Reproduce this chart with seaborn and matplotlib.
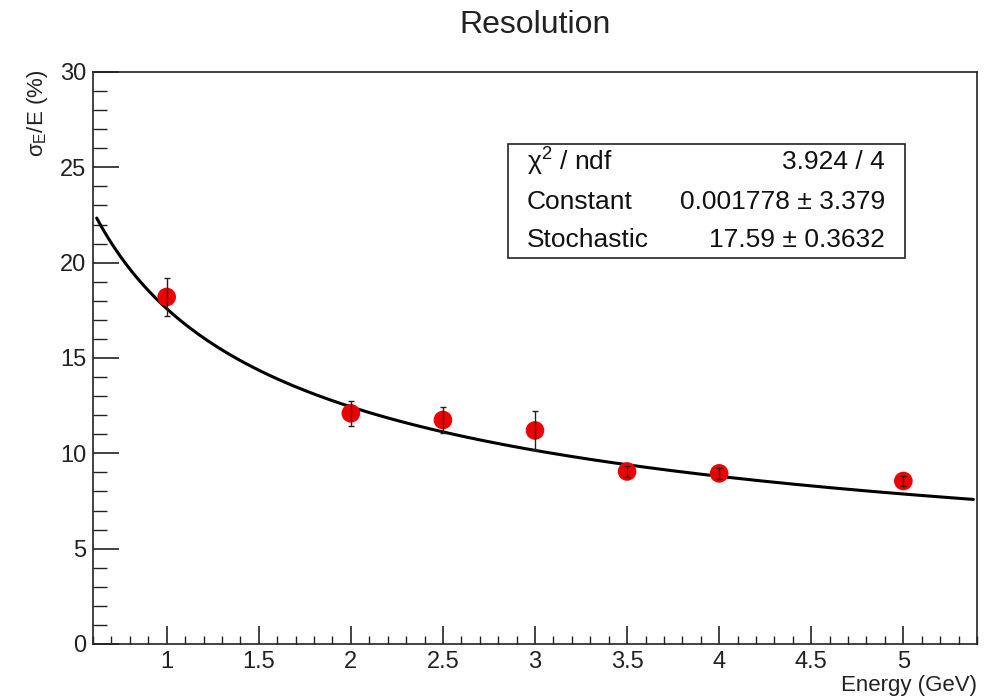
import numpy as np
import pandas as pd
import matplotlib
matplotlib.use("Agg")
import matplotlib.pyplot as plt
from matplotlib.ticker import MultipleLocator
import seaborn as sns

# Data
energy = [1.0, 2.0, 2.5, 3.0, 3.5, 4.0, 5.0]
resolution = [18.2, 12.1, 11.75, 11.2, 9.05, 8.95, 8.55]
res_err = [1.0, 0.65, 0.7, 1.0, 0.3, 0.3, 0.25]

# Fit parameters (from the stats box)
fit_constant = 0.001778
fit_stochastic = 17.59
stats_labels = ["χ$^{2}$ / ndf", "Constant", "Stochastic"]
stats_values = ["3.924 / 4", "0.001778 ± 3.379", "17.59 ± 0.3632"]
x_ticks = [1, 1.5, 2, 2.5, 3, 3.5, 4, 4.5, 5]
x_ticklabels = ["1", "1.5", "2", "2.5", "3", "3.5", "4", "4.5", "5"]
y_ticks = [0, 5, 10, 15, 20, 25, 30]
y_ticklabels = ["0", "5", "10", "15", "20", "25", "30"]

sns.set_theme(style="white")
plt.rcParams['font.family'] = ['Liberation Sans', 'DejaVu Sans']
plt.rcParams['mathtext.fontset'] = 'custom'
plt.rcParams['mathtext.rm'] = 'Liberation Sans'
plt.rcParams['mathtext.it'] = 'Liberation Sans'
plt.rcParams['mathtext.default'] = 'regular'

fig = plt.figure(figsize=(9.94, 6.96), dpi=100)
ax = fig.add_axes([93/994, 1-644/696, (977-93)/994, (644-72)/696])

df = pd.DataFrame({"E": energy, "res": resolution})
e_curve = np.linspace(0.62, 5.38, 300)
curve = np.sqrt((fit_stochastic / np.sqrt(e_curve))**2 + fit_constant**2)
cdf = pd.DataFrame({"E": e_curve, "res": curve})

sns.lineplot(data=cdf, x="E", y="res", color="black", linewidth=2.2, ax=ax, zorder=2)
sns.scatterplot(data=df, x="E", y="res", color="#ee0000", s=180, edgecolor="none", ax=ax, zorder=3)
ax.errorbar(energy, resolution, yerr=res_err, fmt="none", ecolor="#222222",
            elinewidth=1.0, capsize=2, capthick=1.0, zorder=4)

ax.set_xlim(0.6, 5.4)
ax.set_ylim(0, 30)
ax.xaxis.set_minor_locator(MultipleLocator(0.1))
ax.yaxis.set_minor_locator(MultipleLocator(1))
ax.set_xticks(x_ticks)
ax.set_xticklabels(x_ticklabels)
ax.set_yticks(y_ticks)
ax.set_yticklabels(y_ticklabels)
ax.tick_params(axis="both", which="both", direction="in", colors="#222222",
               labelcolor="#222222", labelsize=17, top=False, right=False,
               bottom=True, left=True)
ax.tick_params(axis="x", which="major", length=13, width=1.2, pad=5)
ax.tick_params(axis="x", which="minor", length=6, width=1.0)
ax.tick_params(axis="y", which="major", length=19, width=1.2, pad=5)
ax.tick_params(axis="y", which="minor", length=10, width=1.0)
ax.set_xlabel("")
ax.set_ylabel("")
for sp in ax.spines.values():
    sp.set_color("#222222")
    sp.set_linewidth(1.2)

fig.text(535/994, 1-25/696, "Resolution", ha="center", va="center", fontsize=23, color="#222222")
fig.text(977/994, 1-686/696, "Energy (GeV)", ha="right", va="center", fontsize=16, color="#222222")
fig.text(37/994, 1-70/696, "σ$_{E}$/E (%)", ha="center", va="top", rotation=90,
         fontsize=16, color="#222222")

# Stats box
bx0, bx1, by0, by1 = 508/994, 905/994, 1-258/696, 1-144/696
rect = plt.Rectangle((bx0, by0), bx1-bx0, by1-by0, transform=fig.transFigure,
                     facecolor="white", edgecolor="#222222", linewidth=1.2, zorder=5)
fig.patches.append(rect)
rows_y = [162, 202, 240]
for lab, val, yy in zip(stats_labels, stats_values, rows_y):
    fig.text(527/994, 1-yy/696, lab, ha="left", va="center", fontsize=19, color="#111111", zorder=6)
    fig.text(885/994, 1-yy/696, val, ha="right", va="center", fontsize=19, color="#111111", zorder=6)

fig.savefig("out.png", dpi=100)
